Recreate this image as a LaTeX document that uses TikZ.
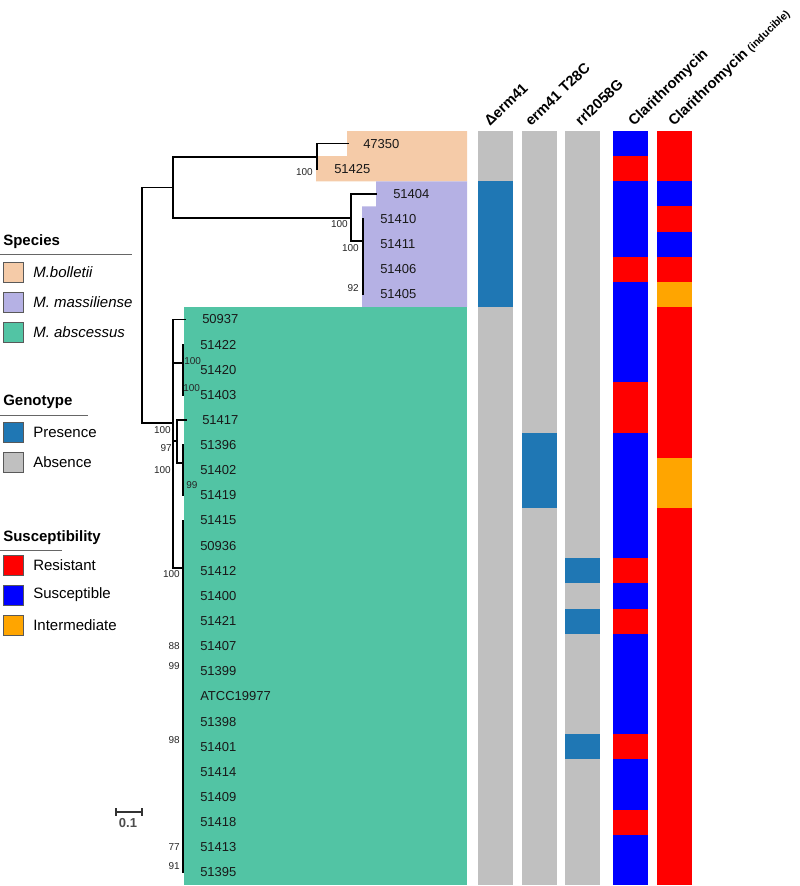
\documentclass[tikz,border=0pt]{standalone}
\usepackage{fontspec}
\setmainfont{Liberation Sans}
\usetikzlibrary{calc}
\definecolor{cBol}{RGB}{245,203,168}
\definecolor{cMas}{RGB}{181,177,228}
\definecolor{cAbs}{RGB}{82,196,164}
\definecolor{cPres}{RGB}{31,119,180}
\definecolor{cAbsn}{RGB}{192,192,192}
\definecolor{cRes}{RGB}{255,0,0}
\definecolor{cSus}{RGB}{0,0,255}
\definecolor{cInt}{RGB}{255,165,0}
\begin{document}
\begin{tikzpicture}[x=0.75pt,y=-0.75pt,
  br/.style={line width=1.2pt,line cap=rect},
  tiplab/.style={font=\fontsize{9.75}{11}\selectfont,anchor=west,inner sep=0pt,text=black!90},
  bsl/.style={font=\fontsize{7.5}{9}\selectfont,inner sep=0pt,text=black!85},
  hdr/.style={font=\bfseries\fontsize{11}{13}\selectfont,rotate=44,anchor=base west,inner sep=0pt},
  lgtitle/.style={font=\bfseries\fontsize{11.25}{13}\selectfont,anchor=west,inner sep=0pt},
  lgtext/.style={font=\fontsize{11.25}{13}\selectfont,anchor=west,inner sep=0pt},
  lgbox/.style={draw=black!65,line width=0.6pt,minimum size=15pt,inner sep=0pt},
  cell/.style={inner sep=0pt}]
\useasboundingbox (0,0) rectangle (800,886);
\def\rh{25.133}
% ---- species highlights ----
\fill[cBol] (347,131) -- (467,131) -- (467,181.3) -- (316,181.3) -- (316,156.1) -- (347,156.1) -- cycle;
\fill[cMas] (376,181.3) -- (467,181.3) -- (467,306.9) -- (362,306.9) -- (362,206.4) -- (376,206.4) -- cycle;
\fill[cAbs] (184,306.9) rectangle (467,885);
% ---- data columns ----
\newcommand{\cellbar}[4]{\fill[#4] (#1,{131+\rh*#2}) rectangle ({#1+35},{131+\rh*#3});}
% Delta erm41
\cellbar{478}{0}{2}{cAbsn}\cellbar{478}{2}{7}{cPres}\cellbar{478}{7}{30}{cAbsn}
% erm41 T28C
\cellbar{522}{0}{12}{cAbsn}\cellbar{522}{12}{15}{cPres}\cellbar{522}{15}{30}{cAbsn}
% rrl2058G
\cellbar{565}{0}{30}{cAbsn}\cellbar{565}{17}{18}{cPres}\cellbar{565}{19}{20}{cPres}\cellbar{565}{24}{25}{cPres}
% Clarithromycin
\cellbar{613}{0}{1}{cSus}\cellbar{613}{1}{2}{cRes}\cellbar{613}{2}{5}{cSus}\cellbar{613}{5}{6}{cRes}
\cellbar{613}{6}{10}{cSus}\cellbar{613}{10}{12}{cRes}\cellbar{613}{12}{17}{cSus}\cellbar{613}{17}{18}{cRes}
\cellbar{613}{18}{19}{cSus}\cellbar{613}{19}{20}{cRes}\cellbar{613}{20}{24}{cSus}\cellbar{613}{24}{25}{cRes}
\cellbar{613}{25}{27}{cSus}\cellbar{613}{27}{28}{cRes}\cellbar{613}{28}{30}{cSus}
% Clarithromycin (inducible)
\cellbar{657}{0}{2}{cRes}\cellbar{657}{2}{3}{cSus}\cellbar{657}{3}{4}{cRes}\cellbar{657}{4}{5}{cSus}
\cellbar{657}{5}{6}{cRes}\cellbar{657}{6}{7}{cInt}\cellbar{657}{7}{13}{cRes}\cellbar{657}{13}{15}{cInt}
\cellbar{657}{15}{30}{cRes}
% ---- headers ----
\node[hdr] (h1) at (490,127) {Δerm41};
\node[hdr] (h2) at (531,127) {erm41 T28C};
\node[hdr] (h3) at (581,127) {rrl2058G};
\node[hdr] (h4) at (634,127) {Clarithromycin};
\node[hdr] (h5) at (674,127) {Clarithromycin {\fontsize{8}{9}\selectfont (inducible)}};
% ---- tree coordinates ----
\coordinate (R) at (142,305);
\coordinate (A) at (173,187.5);
\coordinate (Abs) at (173,423);
\coordinate (Bol) at (317,157);
\coordinate (Mas) at (351,218);
\coordinate (MasB) at (363,241);
\coordinate (D) at (183,363);
\coordinate (E) at (176.7,441);
\coordinate (G) at (183,463);
\coordinate (F) at (183,568);
\foreach \i/\x in {0/348,1/317,2/376,3/363,4/363,5/363,6/363,7/185,8/183,9/183,10/183,11/186,12/183,13/183,14/183,
  15/183,16/183,17/183,18/183,19/183,20/183,21/183,22/183,23/183,24/183,25/183,26/183,27/183,28/183,29/183}
  \coordinate (t\i) at (\x,{131+\rh*(\i+0.5)});
% ---- tree branches ----
\draw[br] (R) |- (A); \draw[br] (R) |- (Abs);
\draw[br] (A) |- (Bol); \draw[br] (A) |- (Mas);
\draw[br] (Bol) |- (t0); \draw[br] (Bol) |- (t1);
\draw[br] (Mas) |- (t2); \draw[br] (Mas) |- (MasB);
\foreach \i in {3,4,5,6} \draw[br] (MasB) |- (t\i);
\draw[br] (Abs) |- (t7); \draw[br] (Abs) |- (D); \draw[br] (Abs) |- (E); \draw[br] (Abs) |- (F);
\foreach \i in {8,9,10} \draw[br] (D) |- (t\i);
\draw[br] (E) |- (t11); \draw[br] (E) |- (G);
\foreach \i in {12,13,14} \draw[br] (G) |- (t\i);
\foreach \i in {15,...,29} \draw[br] (F) |- (t\i);
% ---- tip labels ----
\foreach \i/\x/\lab in {0/363/47350,1/334/51425,2/393/51404,3/380/51410,4/380/51411,5/380/51406,6/380/51405,
  7/202/50937,8/200/51422,9/200/51420,10/200/51403,11/202/51417,12/200/51396,13/200/51402,14/200/51419,
  15/200/51415,16/200/50936,17/200/51412,18/200/51400,19/200/51421,20/200/51407,21/200/51399,
  22/200/ATCC19977,23/200/51398,24/200/51401,25/200/51414,26/200/51409,27/200/51418,28/200/51413,29/200/51395}
  \node[tiplab] (lab\i) at (\x,{131+\rh*(\i+0.5)}) {\lab};
% ---- bootstrap values ----
\node[bsl,anchor=east] (b1) at (313,172) {100};
\node[bsl,anchor=east] (b2) at (348,224) {100};
\node[bsl,anchor=east] (b3) at (359,248) {100};
\node[bsl,anchor=east] (b4) at (359,288) {92};
\node[bsl,anchor=west] (b5) at (184,361) {100};
\node[bsl,anchor=west] (b6) at (183,388) {100};
\node[bsl,anchor=east] (b7) at (171,430) {100};
\node[bsl,anchor=east] (b8) at (172,448) {97};
\node[bsl,anchor=east] (b9) at (171,470) {100};
\node[bsl,anchor=west] (b10) at (186,485) {99};
\node[bsl,anchor=east] (b11) at (180,574) {100};
\node[bsl,anchor=east] (b12) at (180,646) {88};
\node[bsl,anchor=east] (b13) at (180,666) {99};
\node[bsl,anchor=east] (b14) at (180,740) {98};
\node[bsl,anchor=east] (b15) at (180,847) {77};
\node[bsl,anchor=east] (b16) at (180,866) {91};
% ---- scale bar ----
\coordinate (s1) at (116,812); \coordinate (s2) at (142,812);
\draw[line width=1.2pt,black!80] (s1) -- (s2);
\draw[line width=1pt,black!80] ($(s1)+(0,-4)$) -- ($(s1)+(0,4)$);
\draw[line width=1pt,black!80] ($(s2)+(0,-4)$) -- ($(s2)+(0,4)$);
\node[font=\bfseries\fontsize{9.75}{11}\selectfont,text=black!70,inner sep=0pt] (sl) at (128,823) {0.1};
% ---- legend ----
\node[lgtitle] (lt1) at (3,242) {Species};
\draw[black!60,line width=0.6pt] (0,254) -- (132,254);
\node[lgbox,fill=cBol] (lb1) at (13,272) {};
\node[lgtext,font=\itshape\fontsize{11.25}{13}\selectfont] (ll1) at (33,272) {M.bolletii};
\node[lgbox,fill=cMas] (lb2) at (13,302) {};
\node[lgtext,font=\itshape\fontsize{11.25}{13}\selectfont] (ll2) at (33,302) {M. massiliense};
\node[lgbox,fill=cAbs] (lb3) at (13,332) {};
\node[lgtext,font=\itshape\fontsize{11.25}{13}\selectfont] (ll3) at (33,332) {M. abscessus};
\node[lgtitle] (lt2) at (3,402) {Genotype};
\draw[black!60,line width=0.6pt] (0,415) -- (88,415);
\node[lgbox,fill=cPres] (lb4) at (13,432) {};
\node[lgtext] (ll4) at (33,432) {Presence};
\node[lgbox,fill=cAbsn] (lb5) at (13,462) {};
\node[lgtext] (ll5) at (33,462) {Absence};
\node[lgtitle] (lt3) at (3,538) {Susceptibility};
\draw[black!60,line width=0.6pt] (0,550) -- (62,550);
\node[lgbox,fill=cRes] (lb6) at (13,565) {};
\node[lgtext] (ll6) at (33,565) {Resistant};
\node[lgbox,fill=cSus] (lb7) at (13,595) {};
\node[lgtext] (ll7) at (33,595) {Susceptible};
\node[lgbox,fill=cInt] (lb8) at (13,625) {};
\node[lgtext] (ll8) at (33,625) {Intermediate};
\end{tikzpicture}
\end{document}
